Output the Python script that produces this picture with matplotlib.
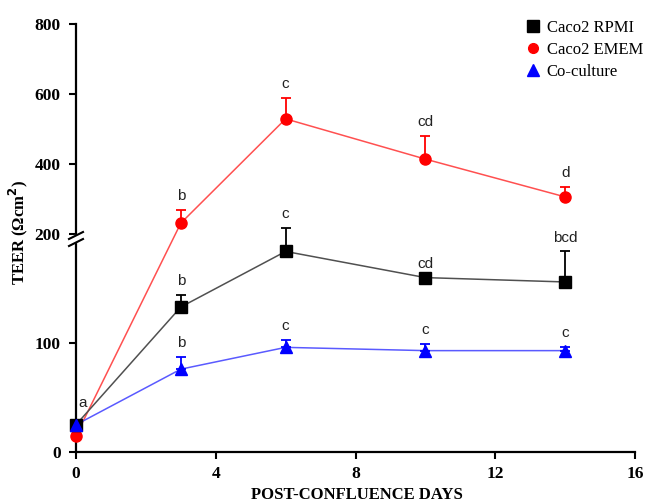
import matplotlib.pyplot as plt
import numpy as np
from matplotlib.lines import Line2D

days = [0, 3, 6, 10, 14]

rpmi = [25, 133, 184, 160, 156]
rpmi_err = [0, 11, 33, 0, 28]
rpmi_letters = ['a', 'b', 'c', 'cd', 'bcd']

emem = [15, 231, 529, 414, 306]
emem_err = [0, 38, 60, 66, 28]
emem_letters = ['', 'b', 'c', 'cd', 'd']

cocult = [25, 76, 96, 93, 93]
cocult_err = [0, 11, 7, 6, 3]
cocult_letters = ['', 'b', 'c', 'c', 'c']

y_ticks = [0, 100, 200, 400, 600, 800]
x_ticks = [0, 4, 8, 12, 16]

# squeeze the part of the axis above the break
k = (210 / 218) * (200 / 600)


def fwd(y):
    y = np.asarray(y, dtype=float)
    return np.where(y <= 200, y, 200 + (y - 200) * k)


def inv(y):
    y = np.asarray(y, dtype=float)
    return np.where(y <= 200, y, 200 + (y - 200) / k)


serif = ['Liberation Serif', 'DejaVu Serif']
sans = ['Liberation Sans', 'DejaVu Sans']

fig = plt.figure(figsize=(6.45, 5.04), dpi=100)
ax = fig.add_axes([76 / 645, 1 - 452 / 504, 559 / 645, 428 / 504])
ax.set_yscale('function', functions=(fwd, inv))

series = [
    (emem, emem_err, emem_letters, 'o', '#ff0000', '#ff5050', 'Caco2 EMEM'),
    (rpmi, rpmi_err, rpmi_letters, 's', '#000000', '#505050', 'Caco2 RPMI'),
    (cocult, cocult_err, cocult_letters, '^', '#0000ff', '#5a5aff', 'Co-culture'),
]

for vals, err, letters, mk, c, lc, name in series:
    ax.plot(days, vals, color=lc, lw=1.1, zorder=2, clip_on=False)
    ax.errorbar(days, vals, yerr=[np.zeros(len(err)), err], fmt='none',
                ecolor=c, elinewidth=1.3, capsize=3.5, capthick=1.3, zorder=3)
    ax.plot(days, vals, ls='none', marker=mk, color=c, ms=8, zorder=4, clip_on=False)
    for d, v, e, t in zip(days, vals, err, letters):
        if not t:
            continue
        if d == 0:
            ax.annotate(t, (d, v), xytext=(5, 16), textcoords='offset points',
                        ha='center', va='center', fontsize=11, family=sans, color='#222222')
        else:
            ax.annotate(t, (d, v + e), xytext=(0, 10), textcoords='offset points',
                        ha='center', va='center', fontsize=11, family=sans, color='#222222')

ax.set_xlim(0, 16)
ax.set_ylim(0, 800)
ax.set_xticks(x_ticks)
ax.set_yticks(y_ticks)
ax.set_yticklabels([str(t) for t in y_ticks])
ax.yaxis.set_minor_locator(plt.NullLocator())

for s in ['top', 'right']:
    ax.spines[s].set_visible(False)
for s in ['left', 'bottom']:
    ax.spines[s].set_linewidth(1.6)
ax.tick_params(axis='y', direction='out', length=5, width=1.5, pad=6)
ax.tick_params(axis='x', direction='out', length=5, width=1.5, pad=5)
for lab in ax.get_xticklabels() + ax.get_yticklabels():
    lab.set_family(serif)
    lab.set_fontweight('bold')
    lab.set_fontsize(12.5)

ax.set_xlabel('POST-CONFLUENCE DAYS', family=serif, fontweight='bold', fontsize=12)
ax.set_ylabel('TEER (Ωcm$^\\mathbf{2}$)', family=serif, fontweight='bold', fontsize=12)
ax.xaxis.set_label_coords(0.503, -0.100)
ax.yaxis.set_label_coords(-0.104, 0.514)
ax.xaxis.label.set_va('center')
ax.yaxis.label.set_va('center')

# axis break marks
yb = fwd(200) / fwd(800)
px_y = 1 / 428
px_x = 1 / 559
ax.plot([0, 0], [yb - 3 * px_y, yb - 7 * px_y], transform=ax.transAxes,
        color='white', lw=3, clip_on=False, zorder=5)
for off in [-1.5, -8.5]:
    yc = yb + off * px_y
    ax.plot([-7 * px_x, 7 * px_x], [yc - 3.5 * px_y, yc + 3.5 * px_y],
            transform=ax.transAxes, color='black', lw=1.5, clip_on=False, zorder=6)

handles = [
    Line2D([], [], ls='none', marker='s', color='#000000', ms=8),
    Line2D([], [], ls='none', marker='o', color='#ff0000', ms=7),
    Line2D([], [], ls='none', marker='^', color='#0000ff', ms=8),
]
fig.legend(handles, ['Caco2 RPMI', 'Caco2 EMEM', 'Co-culture'],
           loc='upper left', bbox_to_anchor=(525 / 645, 1 - 20 / 504),
           frameon=False, handlelength=0.9, handletextpad=0.4, labelspacing=0.35,
           prop={'family': serif, 'size': 12}, borderaxespad=0, borderpad=0)

fig.savefig('out.png', dpi=100)
